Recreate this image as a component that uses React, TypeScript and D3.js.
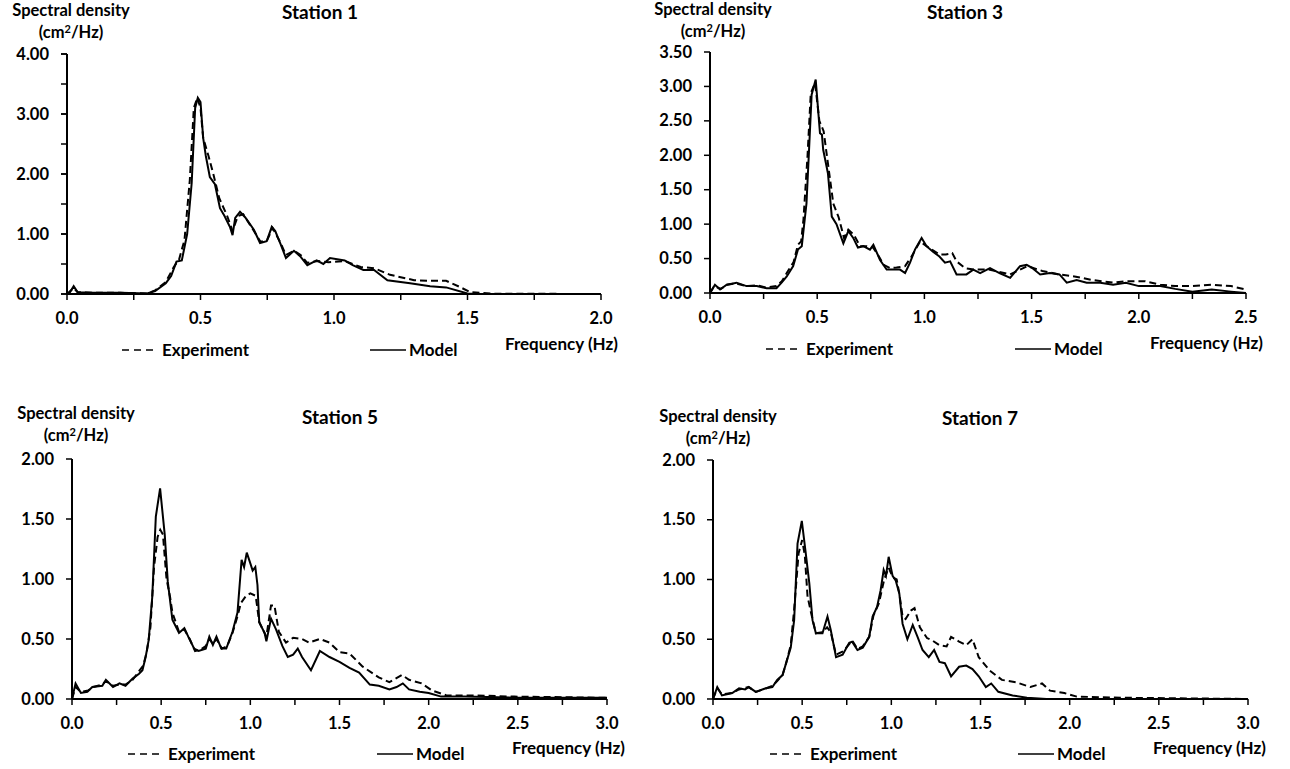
import React from 'react';
import * as d3 from 'd3';

type Pt = [number, number];

// frequency (Hz), spectral density (cm2/Hz)
const station1Experiment: Pt[] = [[0,0],[0.025,0.1],[0.04,0.03],[0.1,0.02],[0.2,0.02],[0.3,0.01],[0.33,0.06],[0.37,0.2],[0.4,0.45],[0.42,0.58],[0.44,0.9],[0.46,1.9],[0.475,3.1],[0.488,3.27],[0.5,3.1],[0.51,2.6],[0.53,2.3],[0.548,2.0],[0.57,1.6],[0.6,1.3],[0.62,1.05],[0.64,1.3],[0.66,1.33],[0.7,1.05],[0.725,0.87],[0.75,0.9],[0.77,1.1],[0.8,0.85],[0.82,0.65],[0.85,0.72],[0.875,0.65],[0.9,0.52],[0.94,0.55],[0.98,0.53],[1.04,0.55],[1.1,0.45],[1.15,0.43],[1.21,0.32],[1.3,0.23],[1.36,0.22],[1.42,0.22],[1.47,0.12],[1.51,0.03],[1.6,0.005],[2.0,0]];
const station1Model: Pt[] = [[0,0],[0.01,0.02],[0.025,0.13],[0.04,0.03],[0.1,0.02],[0.2,0.02],[0.3,0.01],[0.33,0.05],[0.37,0.18],[0.39,0.3],[0.41,0.54],[0.43,0.56],[0.45,1.0],[0.467,1.85],[0.48,3.1],[0.49,3.27],[0.5,3.2],[0.51,2.6],[0.52,2.3],[0.535,1.95],[0.554,1.83],[0.573,1.43],[0.59,1.3],[0.61,1.12],[0.62,0.98],[0.63,1.27],[0.648,1.37],[0.667,1.28],[0.7,1.07],[0.723,0.85],[0.748,0.88],[0.767,1.12],[0.78,1.05],[0.8,0.83],[0.82,0.6],[0.85,0.72],[0.873,0.63],[0.9,0.48],[0.935,0.56],[0.96,0.5],[0.985,0.6],[1.04,0.56],[1.07,0.48],[1.11,0.4],[1.15,0.4],[1.2,0.23],[1.285,0.18],[1.36,0.13],[1.42,0.11],[1.5,0.01],[1.55,0],[2.0,0]];

const station3Experiment: Pt[] = [[0,0],[0.02,0.1],[0.05,0.06],[0.08,0.12],[0.12,0.14],[0.17,0.1],[0.22,0.11],[0.26,0.08],[0.31,0.1],[0.335,0.17],[0.36,0.3],[0.39,0.45],[0.41,0.7],[0.425,0.75],[0.436,1.07],[0.455,2.0],[0.47,2.9],[0.49,3.05],[0.51,2.5],[0.53,2.35],[0.545,2.0],[0.575,1.3],[0.6,1.1],[0.625,0.8],[0.645,0.92],[0.67,0.85],[0.7,0.68],[0.73,0.68],[0.76,0.66],[0.78,0.57],[0.81,0.41],[0.84,0.36],[0.87,0.37],[0.91,0.39],[0.94,0.53],[0.98,0.75],[1.01,0.68],[1.07,0.56],[1.1,0.56],[1.13,0.58],[1.15,0.46],[1.19,0.36],[1.23,0.34],[1.3,0.34],[1.4,0.27],[1.48,0.39],[1.55,0.32],[1.63,0.27],[1.7,0.24],[1.78,0.19],[1.88,0.15],[1.94,0.17],[2.03,0.17],[2.1,0.12],[2.17,0.1],[2.25,0.1],[2.34,0.12],[2.43,0.1],[2.5,0.05]];
const station3Model: Pt[] = [[0,0],[0.023,0.12],[0.047,0.05],[0.078,0.12],[0.124,0.15],[0.17,0.1],[0.218,0.1],[0.264,0.07],[0.31,0.07],[0.334,0.15],[0.358,0.24],[0.388,0.39],[0.41,0.63],[0.428,0.68],[0.45,1.3],[0.462,2.08],[0.474,2.88],[0.493,3.1],[0.513,2.32],[0.522,2.3],[0.528,2.08],[0.55,1.74],[0.568,1.11],[0.59,1.0],[0.622,0.72],[0.645,0.9],[0.668,0.8],[0.69,0.66],[0.715,0.68],[0.746,0.63],[0.762,0.7],[0.793,0.48],[0.824,0.34],[0.855,0.34],[0.886,0.34],[0.91,0.29],[0.933,0.44],[0.956,0.63],[0.987,0.8],[1.01,0.68],[1.04,0.6],[1.07,0.53],[1.096,0.44],[1.12,0.46],[1.15,0.27],[1.196,0.27],[1.228,0.34],[1.26,0.29],[1.306,0.36],[1.35,0.29],[1.4,0.22],[1.446,0.39],[1.477,0.41],[1.5,0.37],[1.54,0.27],[1.586,0.29],[1.63,0.27],[1.664,0.15],[1.71,0.19],[1.757,0.15],[1.82,0.15],[1.88,0.12],[1.94,0.15],[2.0,0.1],[2.1,0.1],[2.17,0.06],[2.25,0.02],[2.34,0.05],[2.43,0.02],[2.5,0]];

const station5Experiment: Pt[] = [[0,0],[0.02,0.1],[0.05,0.06],[0.09,0.07],[0.12,0.1],[0.17,0.12],[0.19,0.15],[0.23,0.11],[0.27,0.12],[0.3,0.12],[0.34,0.16],[0.38,0.24],[0.4,0.28],[0.42,0.4],[0.44,0.6],[0.46,1.1],[0.48,1.35],[0.495,1.41],[0.51,1.37],[0.53,1.0],[0.55,0.85],[0.563,0.72],[0.6,0.56],[0.63,0.58],[0.66,0.5],[0.69,0.4],[0.72,0.41],[0.75,0.44],[0.77,0.5],[0.79,0.46],[0.81,0.5],[0.84,0.42],[0.87,0.44],[0.9,0.55],[0.93,0.7],[0.947,0.8],[0.976,0.86],[1.0,0.88],[1.03,0.86],[1.05,0.64],[1.09,0.52],[1.116,0.78],[1.135,0.78],[1.16,0.56],[1.2,0.47],[1.24,0.51],[1.29,0.5],[1.33,0.47],[1.39,0.5],[1.444,0.47],[1.5,0.39],[1.556,0.38],[1.63,0.27],[1.72,0.18],[1.78,0.14],[1.85,0.2],[1.89,0.16],[1.96,0.13],[2.02,0.07],[2.1,0.03],[2.25,0.03],[2.48,0.02],[3.0,0.01]];
const station5Model: Pt[] = [[0,0],[0.02,0.13],[0.05,0.05],[0.086,0.06],[0.114,0.1],[0.17,0.11],[0.19,0.16],[0.23,0.1],[0.266,0.13],[0.3,0.11],[0.34,0.17],[0.376,0.21],[0.395,0.24],[0.413,0.35],[0.43,0.49],[0.45,0.85],[0.47,1.52],[0.494,1.755],[0.52,1.37],[0.537,0.98],[0.563,0.66],[0.6,0.55],[0.63,0.59],[0.655,0.51],[0.685,0.42],[0.71,0.4],[0.75,0.42],[0.77,0.52],[0.79,0.45],[0.81,0.52],[0.837,0.42],[0.865,0.42],[0.9,0.56],[0.928,0.72],[0.951,1.16],[0.965,1.1],[0.98,1.22],[1.0,1.13],[1.013,1.07],[1.028,1.1],[1.04,0.95],[1.05,0.64],[1.08,0.55],[1.09,0.48],[1.116,0.67],[1.144,0.58],[1.18,0.44],[1.21,0.35],[1.24,0.37],[1.266,0.42],[1.29,0.35],[1.34,0.24],[1.39,0.4],[1.444,0.35],[1.5,0.31],[1.556,0.26],[1.61,0.22],[1.67,0.12],[1.72,0.11],[1.78,0.08],[1.82,0.1],[1.855,0.13],[1.89,0.08],[1.95,0.06],[2.0,0.05],[2.07,0.02],[2.2,0.02],[2.5,0.01],[3.0,0.01]];

const station7Experiment: Pt[] = [[0,0],[0.024,0.09],[0.05,0.04],[0.108,0.05],[0.146,0.08],[0.2,0.1],[0.24,0.06],[0.3,0.09],[0.333,0.11],[0.36,0.15],[0.39,0.2],[0.41,0.3],[0.436,0.45],[0.455,0.75],[0.48,1.22],[0.5,1.33],[0.515,1.2],[0.53,0.86],[0.55,0.72],[0.577,0.55],[0.614,0.56],[0.64,0.6],[0.66,0.56],[0.69,0.37],[0.73,0.4],[0.764,0.46],[0.78,0.49],[0.81,0.42],[0.84,0.44],[0.876,0.52],[0.9,0.7],[0.93,0.8],[0.96,1.0],[0.985,1.1],[1.007,1.02],[1.03,1.0],[1.045,0.88],[1.063,0.69],[1.08,0.67],[1.11,0.74],[1.13,0.76],[1.16,0.6],[1.2,0.51],[1.23,0.49],[1.27,0.45],[1.31,0.44],[1.335,0.52],[1.38,0.48],[1.42,0.45],[1.455,0.5],[1.49,0.35],[1.55,0.24],[1.62,0.16],[1.7,0.14],[1.78,0.1],[1.845,0.13],[1.89,0.07],[1.97,0.05],[2.04,0.02],[2.32,0.01],[3.0,0]];
const station7Model: Pt[] = [[0,0],[0.024,0.1],[0.05,0.03],[0.108,0.05],[0.146,0.09],[0.18,0.08],[0.2,0.1],[0.24,0.06],[0.296,0.09],[0.333,0.1],[0.36,0.16],[0.39,0.2],[0.41,0.3],[0.436,0.43],[0.455,0.66],[0.474,1.3],[0.498,1.49],[0.52,1.22],[0.54,0.97],[0.558,0.66],[0.577,0.55],[0.614,0.55],[0.642,0.69],[0.66,0.58],[0.69,0.35],[0.727,0.37],[0.764,0.47],[0.78,0.48],[0.81,0.41],[0.84,0.43],[0.876,0.52],[0.895,0.69],[0.92,0.77],[0.94,0.91],[0.957,1.08],[0.97,1.03],[0.985,1.19],[1.007,1.03],[1.025,0.99],[1.045,0.88],[1.063,0.63],[1.09,0.5],[1.12,0.62],[1.147,0.52],[1.175,0.41],[1.21,0.35],[1.24,0.41],[1.27,0.31],[1.3,0.3],[1.335,0.19],[1.38,0.27],[1.42,0.28],[1.455,0.25],[1.49,0.19],[1.53,0.1],[1.56,0.13],[1.6,0.06],[1.68,0.03],[1.76,0.01],[1.87,0],[3.0,0]];

const FONT = "Lato, 'Open Sans', sans-serif";

type PanelType = {
  title: string,
  experiment: Pt[],
  model: Pt[],
  xMax: number,
  yMax: number,
  yStep: number,
  yMinor: boolean,
  left: number, right: number, top: number, bottom: number,
  titleX: number, titleY: number,
  labelX: number, labelY: number,
  expX: number, modelX: number, freqX: number, legendY: number
}

const panels: PanelType[] = [
  {title: 'Station 1', experiment: station1Experiment, model: station1Model, xMax: 2, yMax: 4, yStep: 1, yMinor: true,
    left: 67, right: 601, top: 54, bottom: 294, titleX: 320, titleY: 19, labelX: 71, labelY: 16,
    expX: 122, modelX: 370, freqX: 505, legendY: 350},
  {title: 'Station 3', experiment: station3Experiment, model: station3Model, xMax: 2.5, yMax: 3.5, yStep: 0.5, yMinor: false,
    left: 710, right: 1246, top: 52, bottom: 293, titleX: 965, titleY: 19, labelX: 713, labelY: 15,
    expX: 766, modelX: 1015, freqX: 1150, legendY: 349},
  {title: 'Station 5', experiment: station5Experiment, model: station5Model, xMax: 3, yMax: 2, yStep: 0.5, yMinor: false,
    left: 72, right: 607, top: 459, bottom: 699, titleX: 340, titleY: 424, labelX: 76, labelY: 419,
    expX: 128, modelX: 377, freqX: 512, legendY: 754},
  {title: 'Station 7', experiment: station7Experiment, model: station7Model, xMax: 3, yMax: 2, yStep: 0.5, yMinor: false,
    left: 713, right: 1248, top: 460, bottom: 699, titleX: 980, titleY: 425, labelX: 718, labelY: 422,
    expX: 770, modelX: 1018, freqX: 1153, legendY: 754},
];

const Panel = ({p}: {p: PanelType}) => {
  const x = d3.scaleLinear().domain([0, p.xMax]).range([p.left, p.right]);
  const y = d3.scaleLinear().domain([0, p.yMax]).range([p.bottom, p.top]);
  const line = d3.line<Pt>().x(d => x(d[0])).y(d => y(d[1]));

  const xMajor = d3.range(0, p.xMax + 0.001, 0.5);
  const xMinor = d3.range(0, p.xMax + 0.001, 0.25);
  const yMajor = d3.range(0, p.yMax + 0.001, p.yStep);
  const yMinor = p.yMinor ? d3.range(0, p.yMax + 0.001, p.yStep / 2) : [];
  const fx = d3.format('.1f');
  const fy = d3.format('.2f');

  return (
    <g fontFamily={FONT} fontWeight="bold" fill="#000">
      <text x={p.titleX} y={p.titleY} textAnchor="middle" fontSize={19}>{p.title}</text>
      <text x={p.labelX} y={p.labelY} textAnchor="middle" fontSize={16.5}>Spectral density</text>
      <text x={p.labelX} y={p.labelY + 22} textAnchor="middle" fontSize={16.5}>(cm<tspan dy={-5} fontSize={11}>2</tspan><tspan dy={5}>/Hz)</tspan></text>

      {/* curves */}
      <path d={line(p.experiment) || ''} fill="none" stroke="#000" strokeWidth={2} strokeDasharray="7,4" />
      <path d={line(p.model) || ''} fill="none" stroke="#000" strokeWidth={2} />

      {/* y axis */}
      <line x1={p.left} x2={p.left} y1={p.top} y2={p.bottom} stroke="#000" strokeWidth={2} />
      {yMinor.map(v => <line key={'ym' + v} x1={p.left - 6} x2={p.left} y1={y(v)} y2={y(v)} stroke="#000" strokeWidth={1.5} />)}
      {yMajor.map(v => (
        <g key={'y' + v}>
          <line x1={p.left - 6} x2={p.left} y1={y(v)} y2={y(v)} stroke="#000" strokeWidth={1.5} />
          <text x={p.left - 18} y={y(v) + 5.5} textAnchor="end" fontSize={16.5}>{fy(v)}</text>
        </g>
      ))}

      {/* x axis */}
      <line x1={p.left} x2={p.right} y1={p.bottom} y2={p.bottom} stroke="#000" strokeWidth={2} />
      {xMinor.map(v => <line key={'xm' + v} x1={x(v)} x2={x(v)} y1={p.bottom} y2={p.bottom + 6} stroke="#000" strokeWidth={1.5} />)}
      {xMajor.map(v => <text key={'x' + v} x={x(v)} y={p.bottom + 30} textAnchor="middle" fontSize={16.5}>{fx(v)}</text>)}

      {/* legend */}
      <line x1={p.expX} x2={p.expX + 35} y1={p.legendY} y2={p.legendY} stroke="#000" strokeWidth={1.5} strokeDasharray="7,5" />
      <text x={p.expX + 40} y={p.legendY + 6} fontSize={17}>Experiment</text>
      <line x1={p.modelX} x2={p.modelX + 36} y1={p.legendY} y2={p.legendY} stroke="#000" strokeWidth={1.5} />
      <text x={p.modelX + 39} y={p.legendY + 6} fontSize={17}>Model</text>
      <text x={p.freqX} y={p.legendY} fontSize={17}>Frequency (Hz)</text>
    </g>
  );
};

const App = () => (
  <svg width={1290} height={769} style={{position: 'absolute', left: 0, top: 0, background: '#fff'}}>
    {panels.map(p => <Panel key={p.title} p={p} />)}
  </svg>
);

export default App;
